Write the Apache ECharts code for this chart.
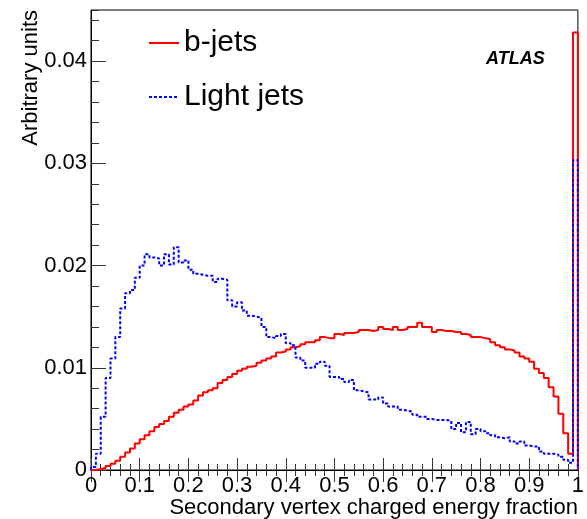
<!DOCTYPE html>
<html>
<head>
<meta charset="utf-8">
<script src="https://cdn.jsdelivr.net/npm/echarts@6/dist/echarts.min.js"></script>
<style>
  html, body { margin: 0; padding: 0; background: #fff; }
  #chart { width: 587px; height: 519px; }
</style>
</head>
<body>
<div id="chart"></div>
<script>
// Normalised distributions in 100 bins of width 0.01 over [0, 1]
const bJets = [
  0.0000, 0.0001, 0.0002, 0.0004, 0.0006, 0.0009, 0.0013, 0.0017, 0.0021, 0.0026,
  0.0030, 0.0034, 0.0038, 0.0042, 0.0045, 0.0048, 0.0052, 0.0056, 0.0059, 0.0062,
  0.0064, 0.0068, 0.0073, 0.0076, 0.0078, 0.0080, 0.0085, 0.0088, 0.0091, 0.0094,
  0.0097, 0.0099, 0.0101, 0.0102, 0.0105, 0.0107, 0.0109, 0.0111, 0.0115, 0.0116,
  0.0118, 0.0120, 0.0121, 0.0123, 0.0125, 0.0125, 0.0127, 0.0130, 0.0129, 0.0129,
  0.0133, 0.0132, 0.0134, 0.0134, 0.0135, 0.0137, 0.0137, 0.0136, 0.0137, 0.0140,
  0.0138, 0.0137, 0.0140, 0.0137, 0.0138, 0.0140, 0.0140, 0.0144, 0.0140, 0.0140,
  0.0135, 0.0137, 0.0136, 0.0136, 0.0135, 0.0135, 0.0133, 0.0132, 0.0130, 0.0130,
  0.0129, 0.0128, 0.0125, 0.0122, 0.0120, 0.0118, 0.0117, 0.0115, 0.0111, 0.0109,
  0.0106, 0.0099, 0.0095, 0.0090, 0.0081, 0.0072, 0.0055, 0.0036, 0.0016, 0.0428
];
const lightJets = [
  0.0003, 0.0016, 0.0052, 0.0090, 0.0109, 0.0130, 0.0158, 0.0173, 0.0176, 0.0188,
  0.0200, 0.0211, 0.0208, 0.0207, 0.0200, 0.0211, 0.0201, 0.0218, 0.0203, 0.0205,
  0.0196, 0.0192, 0.0191, 0.0190, 0.0190, 0.0184, 0.0187, 0.0186, 0.0166, 0.0160,
  0.0164, 0.0156, 0.0151, 0.0150, 0.0149, 0.0140, 0.0130, 0.0129, 0.0131, 0.0133,
  0.0124, 0.0122, 0.0110, 0.0107, 0.0100, 0.0100, 0.0104, 0.0106, 0.0102, 0.0091,
  0.0091, 0.0089, 0.0086, 0.0088, 0.0078, 0.0077, 0.0076, 0.0069, 0.0069, 0.0071,
  0.0065, 0.0062, 0.0062, 0.0059, 0.0058, 0.0057, 0.0054, 0.0052, 0.0052, 0.0050,
  0.0049, 0.0049, 0.0049, 0.0048, 0.0040, 0.0046, 0.0037, 0.0047, 0.0035, 0.0040,
  0.0038, 0.0036, 0.0034, 0.0032, 0.0031, 0.0032, 0.0028, 0.0026, 0.0028, 0.0024,
  0.0023, 0.0023, 0.0018, 0.0016, 0.0016, 0.0015, 0.0013, 0.0010, 0.0007, 0.0303
];
const seriesNames = ['b-jets', 'Light jets'];
const xTicks = [0, 0.1, 0.2, 0.3, 0.4, 0.5, 0.6, 0.7, 0.8, 0.9, 1];
const xTickLabels = ['0', '0.1', '0.2', '0.3', '0.4', '0.5', '0.6', '0.7', '0.8', '0.9', '1'];
const yTicks = [0, 0.01, 0.02, 0.03, 0.04];
const yTickLabels = ['0', '0.01', '0.02', '0.03', '0.04'];
const xTitle = 'Secondary vertex charged energy fraction';
const yTitle = 'Arbitrary units';
const experiment = 'ATLAS';

const FONT = '"Liberation Sans", Arial, Helvetica, sans-serif';

// Turn bin contents into an outline: rise at the left edge, fall at the right edge
function outline(values) {
  const w = 1 / values.length;
  const pts = [[0, 0]];
  values.forEach((v, i) => pts.push([i * w, v]));
  pts.push([1, 0]);
  return pts;
}

function lookup(ticks, labels) {
  return function (v) {
    let best = 0;
    for (let i = 1; i < ticks.length; i++) {
      if (Math.abs(ticks[i] - v) < Math.abs(ticks[best] - v)) best = i;
    }
    return Math.abs(ticks[best] - v) < 1e-6 ? labels[best] : '';
  };
}

const chart = echarts.init(document.getElementById('chart'), null, { renderer: 'canvas' });

const GRID = { left: 91, right: 8, top: 10, bottom: 49 };

chart.setOption({
  animation: false,
  backgroundColor: '#ffffff',
  grid: Object.assign({ show: true, borderColor: '#000', borderWidth: 1, backgroundColor: 'transparent' }, GRID),
  legend: {
    data: seriesNames,
    orient: 'vertical',
    left: 148,
    top: 28,
    padding: 0,
    itemWidth: 30,
    itemHeight: 14,
    itemGap: 24,
    selectedMode: false,
    // line sample only, no marker
    itemStyle: { color: 'rgba(0,0,0,0)', borderWidth: 0, opacity: 0 },
    textStyle: { fontFamily: FONT, fontSize: 30, color: '#000' }
  },
  xAxis: [
    {
      type: 'value', min: 0, max: 1, interval: 0.1, position: 'bottom',
      axisLine: { show: true, lineStyle: { color: '#000', width: 1 } },
      axisTick: { show: true, inside: true, length: 12, lineStyle: { color: '#333' } },
      minorTick: { show: true, splitNumber: 5, length: 6, lineStyle: { color: '#333' } },
      splitLine: { show: false },
      axisLabel: {
        fontFamily: FONT, fontSize: 22, color: '#000', margin: 5,
        formatter: lookup(xTicks, xTickLabels)
      },
      name: xTitle,
      nameLocation: 'end',
      nameGap: 0,
      nameTextStyle: {
        fontFamily: FONT, fontSize: 22, color: '#000',
        align: 'right', verticalAlign: 'top', padding: [27, 0, 0, 0]
      }
    },
    {
      type: 'value', min: 0, max: 1, interval: 0.1, position: 'top',
      axisLine: { show: true, lineStyle: { color: '#000', width: 1 } },
      axisTick: { show: true, inside: true, length: 12, lineStyle: { color: '#333' } },
      minorTick: { show: true, splitNumber: 5, length: 6, lineStyle: { color: '#333' } },
      splitLine: { show: false },
      axisLabel: { show: false }
    }
  ],
  yAxis: [
    {
      type: 'value', min: 0, max: 0.045, interval: 0.01, position: 'left',
      axisLine: { show: true, lineStyle: { color: '#000', width: 1 } },
      axisTick: { show: true, inside: true, length: 15, lineStyle: { color: '#333' } },
      splitLine: { show: false },
      axisLabel: {
        fontFamily: FONT, fontSize: 22, color: '#000', margin: 4,
        showMaxLabel: false, padding: [6, 0, 0, 0],
        formatter: lookup(yTicks, yTickLabels)
      }
    },
    {
      // finer ticks every 0.002
      type: 'value', min: 0, max: 0.045, interval: 0.002, position: 'left', offset: 0,
      axisLine: { show: false },
      axisTick: { show: true, inside: true, length: 8, lineStyle: { color: '#333' } },
      splitLine: { show: false },
      axisLabel: { show: false }
    }
  ],
  graphic: [
    {
      type: 'text',
      x: 31, y: 10,
      rotation: Math.PI / 2,
      style: {
        text: yTitle, fontFamily: FONT, fontSize: 22, fill: '#000',
        align: 'right', verticalAlign: 'middle'
      }
    },
    {
      type: 'text',
      x: 486, y: 59,
      style: {
        text: experiment, font: 'italic bold 18px ' + FONT, fill: '#000',
        align: 'left', verticalAlign: 'middle'
      }
    }
  ],
  series: [
    {
      name: seriesNames[0], type: 'line', step: 'end',
      xAxisIndex: 0, yAxisIndex: 0,
      symbol: 'none', showSymbol: false,
      lineStyle: { color: '#ff0000', width: 2 },
      itemStyle: { color: '#ff0000' },
      data: outline(bJets)
    },
    {
      name: seriesNames[1], type: 'line', step: 'end',
      xAxisIndex: 0, yAxisIndex: 0,
      symbol: 'none', showSymbol: false,
      lineStyle: { color: '#0000ff', width: 2, type: [3, 2] },
      itemStyle: { color: '#0000ff' },
      data: outline(lightJets)
    }
  ]
});
</script>
</body>
</html>
